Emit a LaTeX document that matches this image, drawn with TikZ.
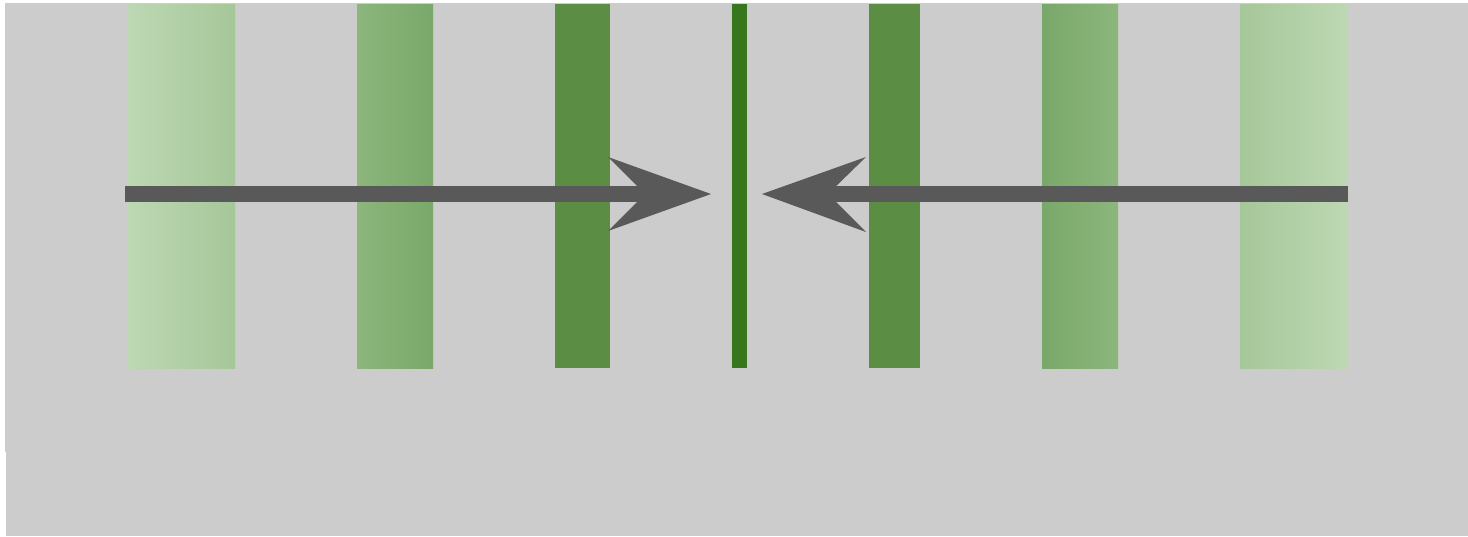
\documentclass[tikz,border=0pt]{standalone}
\begin{document}
\begin{tikzpicture}[x=1pt,y=-1pt,
  bg/.style={fill=bggray,draw=none},
  solidbar/.style={fill=#1,draw=none},
  shaft/.style={draw=arrowgray,line width=16pt},
  head/.style={fill=arrowgray,draw=none}]
\definecolor{bggray}{HTML}{CCCCCC}
\definecolor{arrowgray}{HTML}{595959}
\definecolor{gA}{HTML}{BDD8B4}
\definecolor{gB}{HTML}{A6C799}
\definecolor{gC}{HTML}{8CB67C}
\definecolor{gD}{HTML}{7AA86A}
\definecolor{gE}{HTML}{5B8E44}
\definecolor{gF}{HTML}{38761D}
\useasboundingbox (0,0) rectangle (1468,536);
\fill[white] (0,0) rectangle (1468,536);
\path[bg] (5,3) rectangle (1468,452);
\path[bg] (6,452) rectangle (1468,536);
% bars
\begin{scope}
\clip (0,4) rectangle (1468,368);
\shade[left color=gA,right color=gB] (127,0) rectangle (235,400);
\shade[left color=gC,right color=gD] (357,0) rectangle (433,400);
\shade[left color=gD,right color=gC] (1042,0) rectangle (1118,400);
\shade[left color=gB,right color=gA] (1240,0) rectangle (1348,400);
\end{scope}
\path[solidbar=gE] (555,4) rectangle (610,368);
\path[solidbar=gF] (732,4) rectangle (747,368);
\path[solidbar=gE] (869,4) rectangle (920,368);
% arrows
\coordinate (Lstart) at (125,194);
\coordinate (Lend) at (650,194);
\coordinate (Ltip) at (711,194);
\coordinate (Rstart) at (1348,194);
\coordinate (Rend) at (822,194);
\coordinate (Rtip) at (762,194);
\draw[shaft] (Lstart) -- (Lend);
\draw[shaft] (Rstart) -- (Rend);
\path[head] (Ltip) -- (608,157) -- (645,194) -- (608,231) -- cycle;
\path[head] (Rtip) -- (866,157) -- (828,194) -- (866,232) -- cycle;
\end{tikzpicture}
\end{document}
